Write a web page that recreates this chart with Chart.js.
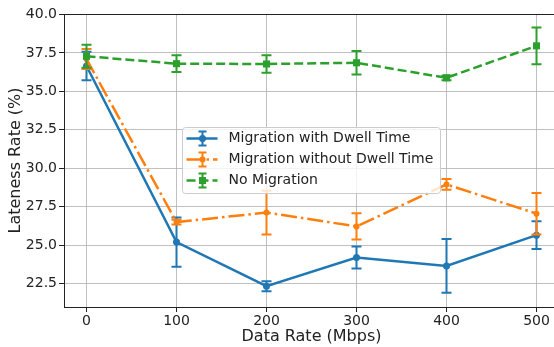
<!DOCTYPE html>
<html>
<head>
<meta charset="utf-8">
<title>Lateness Rate vs Data Rate</title>
<script src="https://cdn.jsdelivr.net/npm/chart.js@4.4.1/dist/chart.umd.min.js"></script>
<style>
  html, body { margin: 0; padding: 0; background: #fff; overflow: hidden; }
  #wrap { width: 554px; height: 347px; overflow: hidden; }
  canvas { display: block; }
</style>
</head>
<body>
<div id="wrap"><canvas id="myChart" width="575" height="347"></canvas></div>
<script>
'use strict';

// <------------------ DATA ------------------>

let dataRates = [0, 100, 200, 300, 400, 500];

let withDwell = [36.65, 25.2, 22.33, 24.2, 23.65, 25.65];
let withDwellErr = [0.93, 1.6, 0.32, 0.72, 1.75, 0.9];

let withoutDwell = [37.1, 26.5, 27.12, 26.22, 28.95, 27.05];
let withoutDwellErr = [0.65, 0.15, 1.42, 0.85, 0.35, 1.35];

let noMigration = [37.28, 36.8, 36.78, 36.86, 35.88, 37.96];
let noMigrationErr = [0.75, 0.54, 0.57, 0.76, 0.15, 1.2];

let seriesLabels = ['Migration with Dwell Time', 'Migration without Dwell Time', 'No Migration'];

let xTicks = [0, 100, 200, 300, 400, 500];
let yTicks = [22.5, 25.0, 27.5, 30.0, 32.5, 35.0, 37.5, 40.0];


// <------------------ STYLE ------------------>

const FONT = 'DejaVu Sans';
const TEXT = '#222222';
const CAP = 5;

Chart.defaults.font.family = FONT;
Chart.defaults.color = TEXT;

let ctx = document.getElementById('myChart').getContext('2d');


// <------------------ HELPERS ------------------>

function toPoints(values) {
  let pts = [];
  for (let i = 0; i < dataRates.length; i++) {
    pts.push({ x: dataRates[i], y: values[i] });
  }
  return pts;
}

function drawMarker(c, style, radius, x, y) {
  c.beginPath();
  if (style === 'rect') {
    c.rect(x - radius * 0.7, y - radius * 0.7, radius * 1.4, radius * 1.4);
  } else {
    c.arc(x, y, radius, 0, Math.PI * 2);
  }
  c.fill();
}


// <------------------ PLUGINS ------------------>

// vertical error bars with caps, drawn just before each line
const errorBars = {
  id: 'errorBars',
  beforeDatasetDraw(chart, args) {
    let ds = chart.data.datasets[args.index];
    let yScale = chart.scales.y;
    let c = chart.ctx;
    c.save();
    c.strokeStyle = ds.borderColor;
    c.lineWidth = 2;
    c.setLineDash([]);
    args.meta.data.forEach(function (pt, i) {
      let v = ds.data[i].y;
      let e = ds.errors[i];
      let top = yScale.getPixelForValue(v + e);
      let bot = yScale.getPixelForValue(v - e);
      c.beginPath();
      c.moveTo(pt.x, top);
      c.lineTo(pt.x, bot);
      c.moveTo(pt.x - CAP, top);
      c.lineTo(pt.x + CAP, top);
      c.moveTo(pt.x - CAP, bot);
      c.lineTo(pt.x + CAP, bot);
      c.stroke();
    });
    c.restore();
  }
};

// top spine (the right one falls outside the window)
const frame = {
  id: 'frame',
  afterDraw(chart) {
    let a = chart.chartArea;
    let c = chart.ctx;
    c.save();
    c.strokeStyle = TEXT;
    c.lineWidth = 1;
    c.beginPath();
    c.moveTo(a.left, a.top + 0.5);
    c.lineTo(a.right, a.top + 0.5);
    c.stroke();
    c.restore();
  }
};

// legend box inside the plot, errorbar style handles
const boxLegend = {
  id: 'boxLegend',
  afterDraw(chart) {
    let c = chart.ctx;
    let left = 182.5, top = 127.5, w = 258, h = 66, r = 3;
    c.save();
    c.beginPath();
    c.moveTo(left + r, top);
    c.arcTo(left + w, top, left + w, top + h, r);
    c.arcTo(left + w, top + h, left, top + h, r);
    c.arcTo(left, top + h, left, top, r);
    c.arcTo(left, top, left + w, top, r);
    c.closePath();
    c.fillStyle = 'rgba(255,255,255,0.8)';
    c.fill();
    c.strokeStyle = '#cccccc';
    c.lineWidth = 1;
    c.stroke();

    for (let i = 0; i < seriesLabels.length; i++) {
      let ds = chart.data.datasets[i];
      let y = top + 11 + i * 21;
      let cx = left + 20;

      c.strokeStyle = ds.borderColor;
      c.fillStyle = ds.borderColor;
      c.lineWidth = ds.borderWidth;
      c.setLineDash(ds.borderDash || []);
      c.beginPath();
      c.moveTo(left + 4, y);
      c.lineTo(left + 35, y);
      c.stroke();

      c.setLineDash([]);
      c.lineWidth = 2;
      c.beginPath();
      c.moveTo(cx, y - 7);
      c.lineTo(cx, y + 7);
      c.moveTo(cx - 4, y - 7);
      c.lineTo(cx + 4, y - 7);
      c.moveTo(cx - 4, y + 7);
      c.lineTo(cx + 4, y + 7);
      c.stroke();

      drawMarker(c, ds.pointStyle, ds.pointRadius, cx, y);

      c.fillStyle = TEXT;
      c.font = '14px "' + FONT + '"';
      c.textBaseline = 'middle';
      c.fillText(seriesLabels[i], left + 46, y);
    }
    c.restore();
  }
};


// <------------------ CHART ------------------>

let myChartObj = {
  type: 'line',
  data: {
    datasets: [{
      label: seriesLabels[0],
      data: toPoints(withDwell),
      errors: withDwellErr,
      borderColor: '#1f77b4',
      backgroundColor: '#1f77b4',
      borderWidth: 2.5,
      pointStyle: 'circle',
      pointRadius: 3.5,
      pointBorderWidth: 0,
      order: 2
    },
    {
      label: seriesLabels[1],
      data: toPoints(withoutDwell),
      errors: withoutDwellErr,
      borderColor: '#ff7f0e',
      backgroundColor: '#ff7f0e',
      borderWidth: 2.5,
      borderDash: [16, 4, 2.5, 4],
      pointStyle: 'circle',
      pointRadius: 3,
      pointBorderWidth: 0,
      order: 1
    },
    {
      label: seriesLabels[2],
      data: toPoints(noMigration),
      errors: noMigrationErr,
      borderColor: '#2ca02c',
      backgroundColor: '#2ca02c',
      borderWidth: 2.5,
      borderDash: [9, 4],
      pointStyle: 'rect',
      pointRadius: 5,
      pointBorderWidth: 0,
      order: 0
    }]
  },
  options: {
    responsive: false,
    animation: false,
    devicePixelRatio: 1,
    // plot area runs past the right edge of the visible window
    layout: { padding: { top: 14, right: 16, left: 0, bottom: 0 } },
    plugins: {
      legend: { display: false },
      tooltip: { enabled: false }
    },
    elements: { line: { tension: 0 } },
    scales: {
      x: {
        type: 'linear',
        min: -25,
        max: 525,
        afterBuildTicks: function (s) { s.ticks = xTicks.map(v => ({ value: v })); },
        afterFit: function (s) { s.height = 40; },
        grid: { color: '#b0b0b0', lineWidth: 0.8, tickColor: TEXT, tickLength: 5, tickWidth: 1 },
        border: { color: TEXT, width: 1 },
        ticks: { font: { size: 14 }, color: TEXT, padding: 1, maxRotation: 0, callback: v => String(v) },
        title: { display: true, text: 'Data Rate (Mbps)', font: { size: 16 }, color: TEXT, padding: { top: 0, bottom: 1 } }
      },
      y: {
        min: 20.98,
        max: 40.03,
        afterBuildTicks: function (s) { s.ticks = yTicks.map(v => ({ value: v })); },
        afterFit: function (s) { s.width = 64; },
        grid: { color: '#b0b0b0', lineWidth: 0.8, tickColor: TEXT, tickLength: 5, tickWidth: 1 },
        border: { color: TEXT, width: 1 },
        ticks: { font: { size: 14 }, color: TEXT, padding: 2, callback: v => v.toFixed(1) },
        title: { display: true, text: 'Lateness Rate (%)', font: { size: 16 }, color: TEXT, padding: { top: 6, bottom: 0 } }
      }
    }
  },
  plugins: [errorBars, frame, boxLegend]
};

const myChart = new Chart(ctx, myChartObj);
</script>
</body>
</html>
